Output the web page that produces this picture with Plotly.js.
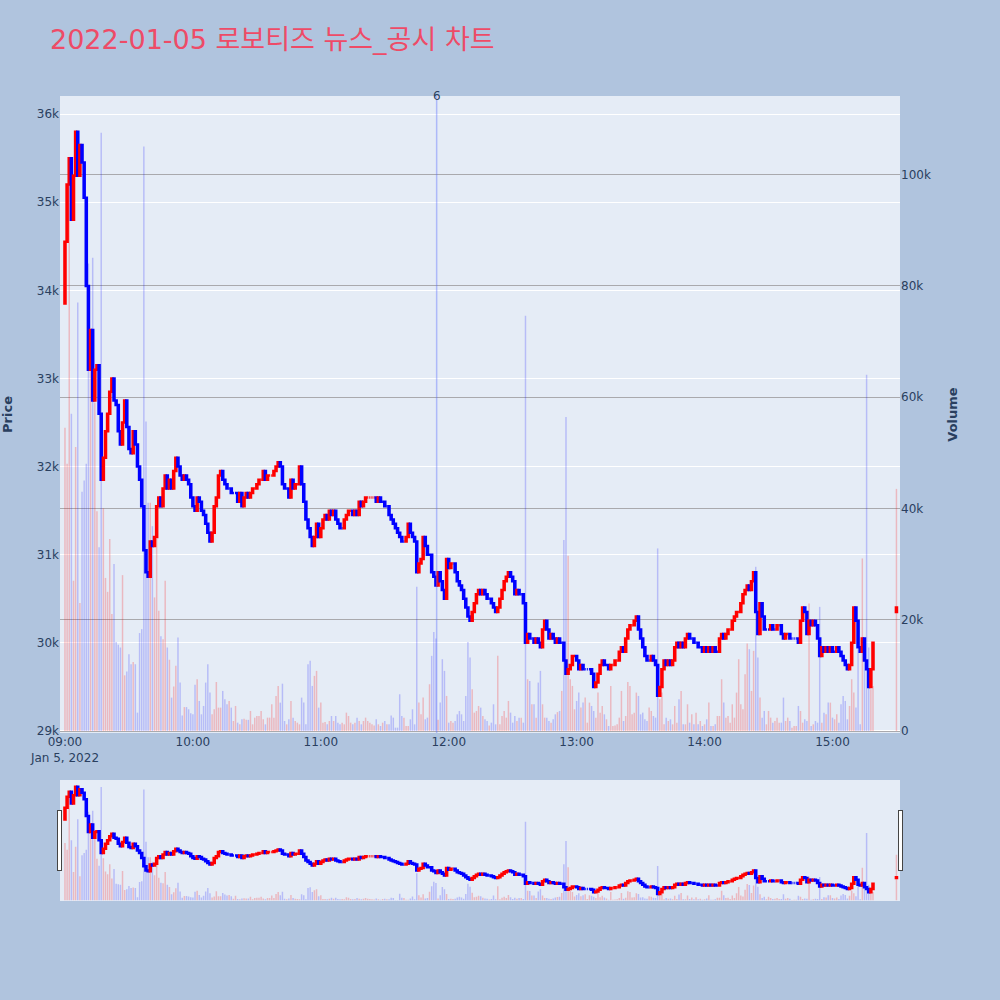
<!DOCTYPE html>
<html>
<head>
<meta charset="utf-8">
<script src="https://cdn.plot.ly/plotly-3.0.1.min.js"></script>
<style>body{margin:0;background:#b0c4de}</style>
</head>
<body>
<div id="chart" style="width:1000px;height:1000px"></div>
<script>
// 1분봉 종가 (09:00 ~ 15:19)
const closes = [
  34550, 35200, 35500, 34800, 35300, 35800, 35300, 35650, 35450, 35050,
  34050, 33100, 33550, 32750, 33100, 33150, 32600, 31850, 32100, 32400,
  32600, 32850, 33000, 32750, 32700, 32400, 32250, 32500, 32750, 32450,
  32200, 32150, 32400, 32250, 32000, 31850, 31550, 31050, 30800, 30750,
  31150, 31100, 31200, 31550, 31650, 31550, 31750, 31900, 31750, 31850,
  31750, 31950, 32100, 32000, 31900, 31850, 31900, 31850, 31800, 31650,
  31550, 31500, 31650, 31600, 31500, 31450, 31350, 31250, 31150, 31250,
  31550, 31650, 31900, 31950, 31850, 31800, 31750, 31750, 31700, 31700,
  31700, 31600, 31700, 31550, 31650, 31700, 31650, 31700, 31750, 31750,
  31800, 31850, 31850, 31950, 31850, 31900, 31900, 31900, 31950, 32000,
  32050, 32000, 31800, 31750, 31750, 31650, 31850, 31750, 31800, 31800,
  32000, 31800, 31600, 31400, 31300, 31200, 31100, 31200, 31350, 31200,
  31300, 31400, 31450, 31400, 31500, 31450, 31500, 31400, 31350, 31300,
  31300, 31400, 31450, 31500, 31500, 31450, 31500, 31450, 31600, 31550,
  31600, 31650, 31650, 31650, 31650, 31650, 31600, 31650, 31600, 31600,
  31550, 31550, 31450, 31400, 31350, 31300, 31250, 31200, 31150, 31150,
  31200, 31350, 31250, 31200, 31150, 30800, 30900, 30950, 31200, 31100,
  31000, 31000, 30800, 30750, 30650, 30800, 30700, 30600, 30500, 30950,
  30850, 30900, 30900, 30800, 30700, 30650, 30600, 30500, 30400, 30300,
  30250, 30350, 30450, 30550, 30600, 30550, 30600, 30550, 30500, 30500,
  30450, 30400, 30350, 30400, 30500, 30600, 30700, 30750, 30800, 30750,
  30700, 30550, 30600, 30550, 30550, 30450, 30000, 30100, 30050, 30050,
  30000, 30050, 30000, 29950, 30150, 30250, 30150, 30050, 30100, 30050,
  30000, 30050, 30000, 30000, 29800, 29650, 29700, 29750, 29850, 29850,
  29800, 29700, 29750, 29700, 29700, 29700, 29700, 29650, 29500, 29550,
  29650, 29750, 29800, 29750, 29750, 29700, 29750, 29750, 29800, 29800,
  29900, 29950, 29900, 30050, 30150, 30200, 30200, 30250, 30300, 30150,
  30050, 29950, 29850, 29800, 29800, 29850, 29800, 29750, 29400, 29500,
  29700, 29800, 29750, 29800, 29750, 29800, 29950, 30000, 29950, 30000,
  29950, 30050, 30100, 30050, 30050, 30000, 30000, 29950, 29950, 29900,
  29950, 29900, 29950, 29900, 29950, 29900, 29900, 30050, 30100, 30050,
  30100, 30150, 30150, 30250, 30300, 30350, 30350, 30450, 30550, 30600,
  30650, 30600, 30700, 30800, 30350, 30100, 30450, 30300, 30150, 30150,
  30150, 30200, 30150, 30150, 30200, 30200, 30100, 30050, 30100, 30100,
  30050, 30050, 30050, 30050, 30000, 30250, 30400, 30350, 30100, 30250,
  30200, 30250, 30200, 30050, 29850, 29950, 29900, 29950, 29900, 29950,
  29900, 29900, 29950, 29900, 29850, 29800, 29750, 29700, 29750, 30000,
  30400, 30250, 29950, 29900, 30050, 29800, 29700, 29500, 29700, 30000
];
const firstOpen = 33850;

// 1분봉 거래량
const volumes = [
  54500, 48000, 99000, 57000, 27000, 51000, 77000, 23000, 43000, 45000,
  48000, 84000, 67000, 85000, 59000, 39500, 33000, 107500, 40000, 27500,
  25000, 34500, 21000, 30000, 16000, 15500, 15000, 28000, 10000, 10700,
  13800, 12000, 12400, 12000, 3300, 17600, 18300, 105000, 55600, 41000,
  41000, 36800, 24000, 34500, 21600, 17000, 16500, 27000, 15000, 12800,
  6000, 8000, 11700, 16800, 8700, 2800, 4300, 4300, 3900, 3200,
  3000, 8300, 9300, 5400, 3000, 4500, 8700, 12000, 6900, 3000,
  3900, 8800, 4200, 4200, 7200, 5700, 4800, 5400, 4200, 1800,
  4500, 1500, 1200, 2100, 2200, 2000, 2000, 3600, 1200, 2400,
  2700, 2700, 3600, 2100, 1200, 2400, 2400, 4800, 2400, 6300,
  8100, 5100, 8500, 1800, 1200, 2100, 5400, 2400, 1800, 1500,
  1200, 6000, 5100, 1200, 12000, 12600, 8100, 9900, 10800, 4200,
  5100, 1500, 1600, 1200, 1800, 2700, 1800, 2700, 1500, 1200,
  1500, 1200, 3300, 2700, 1500, 1200, 1500, 2400, 1800, 1200,
  1800, 2400, 1800, 1500, 1200, 1000, 2100, 1200, 900, 1500,
  1800, 1200, 1200, 2800, 2400, 600, 600, 6600, 2700, 2400,
  900, 900, 2100, 3900, 1200, 25900, 5100, 3000, 6000, 2100,
  2400, 8400, 13500, 17800, 16600, 2000, 5100, 12900, 10800, 6300,
  1500, 1800, 1500, 1800, 3000, 3600, 3000, 1800, 6300, 16000,
  13200, 7500, 3300, 3600, 4500, 4200, 2700, 2100, 1800, 1000,
  1500, 4800, 1200, 13500, 1200, 2700, 3600, 2400, 5400, 3300,
  1500, 2700, 1800, 2400, 2400, 1500, 74600, 9300, 9000, 4800,
  4800, 2400, 8700, 10800, 4800, 2400, 2400, 1800, 1500, 2100,
  3000, 3400, 3600, 7200, 34300, 56400, 31500, 9300, 8100, 3900,
  5400, 6900, 4200, 5100, 6000, 1500, 5100, 4500, 3600, 2400,
  6900, 3300, 4500, 3000, 2100, 900, 8100, 900, 1000, 1200,
  2400, 7200, 1800, 2700, 8800, 8100, 3000, 3300, 6900, 6300,
  3000, 3300, 2100, 1800, 4200, 3600, 2700, 2400, 32800, 5700,
  6900, 1200, 2400, 1800, 2100, 1200, 4500, 1500, 5700, 7200,
  1200, 1200, 4800, 1500, 3000, 1200, 3300, 1200, 1800, 900,
  1200, 2100, 5100, 900, 900, 1200, 2700, 2700, 9300, 5100,
  2400, 2700, 1500, 4800, 2400, 6900, 12900, 4800, 3900, 10200,
  15700, 14700, 7200, 14400, 29500, 13200, 6000, 2400, 3600, 1200,
  3600, 2400, 1500, 1800, 2400, 1500, 1500, 6000, 1800, 2400,
  1800, 600, 900, 900, 4500, 3600, 1500, 2100, 1800, 22900,
  900, 1200, 1800, 1500, 22300, 1500, 3300, 3000, 5100, 5100,
  2400, 2100, 3000, 1500, 4800, 6300, 5400, 2100, 4500, 9300,
  6900, 4200, 14700, 1200, 31000, 14700, 64000, 15000, 7500, 8100
];

// 15:30 종가 단일가
const closingTime = "2022-01-05 15:30";
const closingOpen = 30350;
const closingPrice = 30400;
const closingVolume = 43500;

// 뉴스/공시
const newsTime = "2022-01-05 11:54:20";
const newsLabel = "6";

const pad = n => String(n).padStart(2, "0");
const times = closes.map((_, i) => {
  const m = 9 * 60 + i;
  return `2022-01-05 ${pad(Math.floor(m / 60))}:${pad(m % 60)}`;
});
times.push(closingTime);

const close = closes.concat([closingPrice]);
const open = [firstOpen].concat(closes.slice(0, -1), [closingOpen]);
const high = open.map((o, i) => Math.max(o, close[i]));
const low = open.map((o, i) => Math.min(o, close[i]));
const vol = volumes.concat([closingVolume]);
const volColor = close.map((c, i) => c >= open[i] ? "rgba(255,0,0,0.22)" : "rgba(0,0,255,0.2)");

const candles = {
  type: "candlestick", x: times, open, high, low, close,
  increasing: { line: { color: "red", width: 2.5 }, fillcolor: "red" },
  decreasing: { line: { color: "blue", width: 2.5 }, fillcolor: "blue" },
  showlegend: false, name: "Price"
};
const bars = {
  type: "bar", x: times, y: vol, yaxis: "y2",
  marker: { color: volColor, line: { width: 0 } },
  showlegend: false, name: "Volume"
};

const layout = {
  width: 1000, height: 1000,
  paper_bgcolor: "#b0c4de", plot_bgcolor: "#e5ecf6",
  font: { family: "'DejaVu Sans', verdana, sans-serif", color: "#2a3f5f", size: 12 },
  margin: { l: 60, r: 100, t: 96, b: 100 },
  title: {
    text: "2022-01-05 로보티즈 뉴스_공시 차트",
    x: 0.05, xanchor: "left", y: 0.96, yanchor: "middle",
    font: { family: "'DejaVu Sans', 'Noto Sans CJK KR', sans-serif", size: 27, color: "#ee4b67" }
  },
  showlegend: false,
  bargap: 0.3,
  xaxis: {
    type: "date",
    range: ["2022-01-05 08:57:40", "2022-01-05 15:31:40"],
    showgrid: false, zeroline: false, ticks: "",
    rangeslider: { visible: true, thickness: 0.15, bgcolor: "#e5ecf6", borderwidth: 0 }
  },
  yaxis: {
    range: [28977, 36205], gridcolor: "white", zeroline: false,
    title: { text: "<b>Price</b>", font: { size: 13 }, standoff: 22 }
  },
  yaxis2: {
    overlaying: "y", side: "right", range: [-360, 114080],
    gridcolor: "#a9a9ad", zeroline: false,
    title: { text: "<b>Volume</b>", font: { size: 13 }, standoff: 17 }
  },
  shapes: [{
    type: "line", xref: "x", yref: "paper", x0: newsTime, x1: newsTime, y0: 0, y1: 1,
    line: { color: "rgba(90,110,255,0.4)", width: 1.5 }
  }],
  annotations: [{
    x: newsTime, xref: "x", y: 1, yref: "paper", text: newsLabel,
    showarrow: false, xanchor: "center", yanchor: "middle", font: { size: 12 }
  }]
};

Plotly.newPlot("chart", [bars, candles], layout, { displayModeBar: false });
</script>
</body>
</html>
